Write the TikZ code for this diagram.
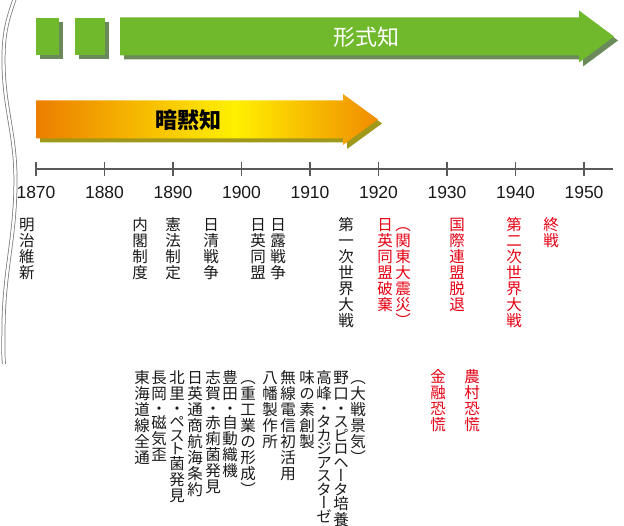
\documentclass[tikz,border=0pt]{standalone}
\usepackage{fontspec}
\setmainfont{Liberation Sans}
\newfontfamily\jpv[RawFeature=+vert]{Noto Sans CJK JP}
\newfontfamily\jp{Noto Sans CJK JP}
\definecolor{grn}{RGB}{112,185,44}
\definecolor{grnsh}{RGB}{107,138,90}
\definecolor{org1}{RGB}{236,126,0}
\definecolor{yel}{RGB}{255,240,0}
\definecolor{org2}{RGB}{240,140,0}
\definecolor{orgsh}{RGB}{160,152,24}
\definecolor{jred}{RGB}{230,0,18}
\definecolor{axiscol}{RGB}{90,90,90}
\definecolor{txt}{RGB}{25,25,25}
\definecolor{wavecol}{RGB}{120,120,120}
\pgfdeclarehorizontalshading{orgshade}{100bp}{color(0bp)=(org1); color(25bp)=(org1); color(54bp)=(yel); color(75bp)=(org2); color(100bp)=(org2)}
\makeatletter
\newcommand\vt[1]{\vbox{\offinterlineskip\@tfor\vtc:=#1\do{%
  \expandafter\in@\expandafter{\vtc}{・スピロヘータカジアゼペト}%
  \ifin@\def\vth{12.9pt}\def\vtd{0.6pt}\else\def\vth{14pt}\def\vtd{2pt}\fi
  \hbox to 16pt{\vrule width 0pt height \vth depth \vtd\hss\vtc\hss}}}}
\makeatother
\tikzset{
  vtx/.style={anchor=north, inner sep=0pt, text=txt, font=\jpv\fontsize{15.5}{16}\selectfont},
  vred/.style={vtx, text=jred},
  year/.style={inner sep=0pt, text=txt, font=\fontsize{17.5}{18}\selectfont},
  axisline/.style={draw=axiscol, line width=1.1pt},
}
\begin{document}
\begin{tikzpicture}[x=1pt,y=-1pt]
\useasboundingbox (0,0) rectangle (624,526);
% wavy double border
\draw[draw=wavecol, line width=0.75pt, double=white, double distance=2.4pt]
  (15,-2) to[out=-110,in=90] (3.5,60) to[out=-90,in=90] (15.5,180)
  to[out=-90,in=90] (3.5,330) to[out=-90,in=95] (4,364);
% green squares with shadows
\fill[grnsh] (40,22) rectangle (63,59);
\fill[grn] (36,18) rectangle (59,55);
\fill[grnsh] (79,22) rectangle (109,59);
\fill[grn] (75,18) rectangle (105,55);
% green arrow
\fill[grnsh] (124,21.5) -- (583,21.5) -- (583,14.5) -- (618,40.5) -- (583,66.5) -- (583,59.5) -- (124,59.5) -- cycle;
\fill[grn] (120,17.5) -- (579,17.5) -- (579,10.5) -- (614,36.5) -- (579,62.5) -- (579,55.5) -- (120,55.5) -- cycle;
\node[inner sep=0pt, text=white, font=\jp\fontsize{22}{22}\selectfont] (formal) at (366,37) {形式知};
% orange arrow
\fill[orgsh] (40,104.5) -- (347,104.5) -- (347,98) -- (382,123.5) -- (347,149) -- (347,142.5) -- (40,142.5) -- cycle;
\shade[shading=orgshade] (36,100.5) -- (343,100.5) -- (343,94) -- (378,119.5) -- (343,145) -- (343,138.5) -- (36,138.5) -- cycle;
\node[inner sep=0pt, text=black, font=\jp\bfseries\fontsize{22}{22}\selectfont] (tacit) at (188,120) {暗黙知};
% timeline
\coordinate (tlA) at (36,169);
\coordinate (tlB) at (613,169);
\draw[axisline] (tlA) -- (tlB);
\foreach \i in {0,...,8}{
  \pgfmathsetmacro\xx{36+68.5*\i}
  \coordinate (tk\i a) at (\xx,162);
  \coordinate (tk\i b) at (\xx,176);
  \draw[axisline] (tk\i a) -- (tk\i b);
  \node[year] (yr\i) at (\xx,192) {\the\numexpr1870+10*\i\relax};
}
% upper events
\node[vtx] (e1) at (27,216.5) {\vt{明治維新}};
\node[vtx] (e2) at (140,216.5) {\vt{内閣制度}};
\node[vtx] (e3) at (173,216.5) {\vt{憲法制定}};
\node[vtx] (e4) at (211,216.5) {\vt{日清戦争}};
\node[vtx] (e5) at (258,216.5) {\vt{日英同盟}};
\node[vtx] (e6) at (278,216.5) {\vt{日露戦争}};
\node[vtx] (e7) at (346,216.5) {\vt{第一次世界大戦}};
\node[vred] (e8) at (385,216.5) {\vt{日英同盟破棄}};
\node[vred] (e9) at (403,216.5) {\vt{（関東大震災）}};
\node[vred] (e10) at (457,216.5) {\vt{国際連盟脱退}};
\node[vred] (e11) at (514,216.5) {\vt{第二次世界大戦}};
\node[vred] (e12) at (551,216.5) {\vt{終戦}};
% lower events
\node[vtx] (l1) at (142,369) {\vt{東海道線全通}};
\node[vtx] (l2) at (159,369) {\vt{長岡・磁気歪}};
\node[vtx] (l3) at (177,369) {\vt{北里・ペスト菌発見}};
\node[vtx] (l4) at (195,369) {\vt{日英通商航海条約}};
\node[vtx] (l5) at (213,369) {\vt{志賀・赤痢菌発見}};
\node[vtx] (l6) at (230,369) {\vt{豊田・自動織機}};
\node[vtx] (l7) at (248,369) {\vt{（重工業の形成）}};
\node[vtx] (l8) at (270,369) {\vt{八幡製作所}};
\node[vtx] (l9) at (288,369) {\vt{無線電信初活用}};
\node[vtx] (l10) at (307,369) {\vt{味の素創製}};
\node[vtx] (l11) at (324,369) {\vt{高峰・タカジアスターゼ}};
\node[vtx] (l12) at (341,369) {\vt{野口・スピロヘータ培養}};
\node[vtx] (l13) at (358,369) {\vt{（大戦景気）}};
\node[vred] (l14) at (438,368) {\vt{金融恐慌}};
\node[vred] (l15) at (472,368) {\vt{農村恐慌}};
\end{tikzpicture}
\end{document}
